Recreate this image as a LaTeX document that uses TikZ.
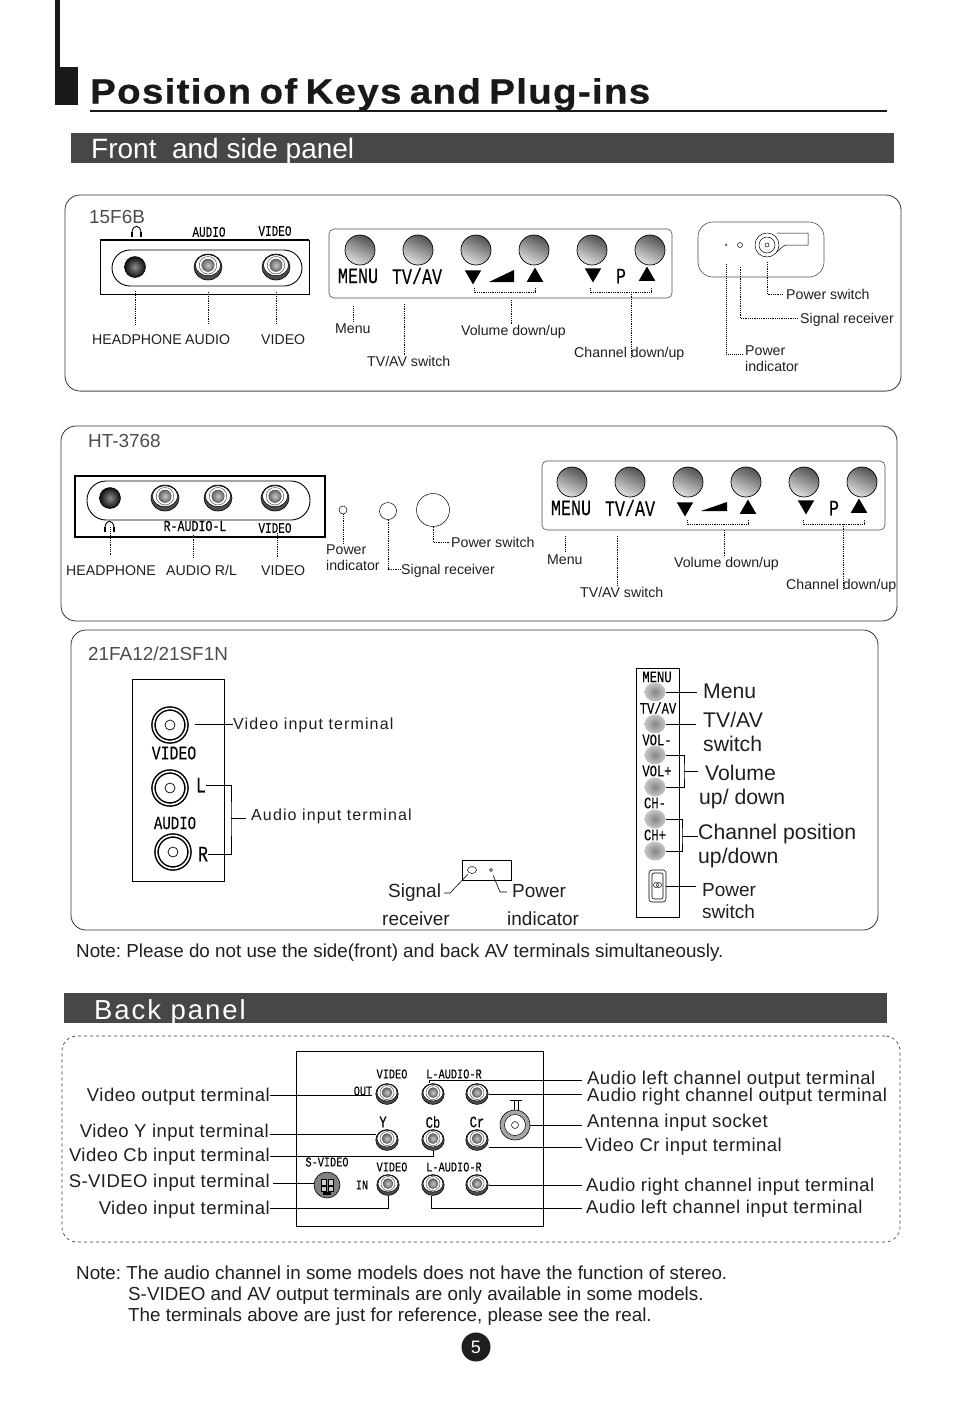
\documentclass[tikz,border=0pt]{standalone}
\usepackage{fontspec}
\usepackage{xcolor}
\usetikzlibrary{positioning,calc,shapes.geometric}
\setmainfont{Liberation Sans}
\newfontfamily\panelfont[FakeStretch=0.76,FakeBold=0.15]{Liberation Mono}
\newfontfamily\spfont[LetterSpace=7]{Liberation Sans}
\newfontfamily\backfont[LetterSpace=2.5]{Liberation Sans}
\newfontfamily\titlefont[LetterSpace=3.7,FakeStretch=1.1,WordSpace=0.7,FakeBold=0.7]{Liberation Sans}
\frenchspacing
\begin{document}
\begin{tikzpicture}[
  x=1pt, y=-1pt,
  panel/.style={draw=black!80, line width=.8pt, rounded corners=15pt},
  bar/.style={fill=black!72, inner sep=0pt},
  bartext/.style={anchor=west, inner sep=0pt, text=white, text height=20pt, text depth=0pt},
  frame/.style={draw=black, line width=.9pt},
  pad/.style={draw=black!70, line width=.6pt, rounded corners=5pt},
  knob/.style={circle, draw=black, line width=.7pt, minimum size=30pt, inner sep=0pt, top color=black!68, bottom color=black!12, shading angle=-25},
  btn/.style={ellipse, minimum width=21pt, minimum height=19pt, inner sep=0pt, inner color=black!48, outer color=black!22},
  rca/.style={ellipse, draw=black, line width=.6pt, fill=black!70, minimum width=28pt*#1, minimum height=26pt*#1, inner sep=0pt,
    path picture={
      \node[ellipse, draw=black, fill=white, line width=.5pt, minimum width=25pt*#1, minimum height=21pt*#1, inner sep=0pt] (rcax) at ([yshift=1.8pt*#1]path picture bounding box.center) {};
      \node[circle, draw=black!80, fill=white, line width=.4pt, minimum size=17.5pt*#1, inner sep=0pt] (rcaz) at (rcax.center) {};
      \node[circle, draw=black!70, line width=.4pt, minimum size=12.5pt*#1, inner sep=0pt, inner color=black!22, outer color=black!60] (rcay) at (rcax.center) {};
    }},
  rca/.default=1,
  hpj/.style={circle, draw=black, line width=.5pt, minimum size=21pt, inner sep=0pt, inner color=black!45, outer color=black!95},
  ringj/.style={circle, draw=black, line width=1.5pt, double=white, double distance=1.6pt, fill=white, minimum size=33pt, inner sep=0pt,
    path picture={\node[circle, draw=black, line width=.7pt, minimum size=10pt, inner sep=0pt] (ringx) at (path picture bounding box.center) {};}},
  hole/.style={circle, draw=black, line width=.5pt, inner sep=0pt},
  tri/.style={regular polygon, regular polygon sides=3, fill=black, inner sep=0pt, minimum size=19pt},
  trd/.style={tri, shape border rotate=180},
  bigp/.style={font=\panelfont\fontsize{22}{22}\selectfont, inner sep=0pt, text=black},
  smallp/.style={font=\panelfont\fontsize{14.5}{15}\selectfont, inner sep=0pt, text=black},
  stripp/.style={font=\panelfont\fontsize{16}{16}\selectfont, inner sep=0pt, text=black},
  backp/.style={font=\panelfont\fontsize{13.5}{14}\selectfont, inner sep=0pt, text=black},
  lab/.style={font=\fontsize{14.15}{16}\selectfont, anchor=west, inner sep=0pt, text=black!88, text height=10pt, text depth=0pt},
  labt/.style={font=\fontsize{14.15}{16}\selectfont, anchor=west, inner sep=0pt, text=black!88, align=left},
  model/.style={font=\fontsize{18.9}{20}\selectfont, anchor=west, inner sep=0pt, text=black!70, text height=13pt, text depth=0pt},
  note/.style={font=\fontsize{18.8}{21}\selectfont, anchor=west, inner sep=0pt, text=black!88, text height=13pt, text depth=0pt},
  big/.style={font=\fontsize{21.2}{24}\selectfont, anchor=west, inner sep=0pt, text=black!88, text height=16pt, text depth=0pt},
  bigt/.style={font=\fontsize{21.2}{24}\selectfont, anchor=west, inner sep=0pt, text=black!88, align=left},
  mid/.style={font=\fontsize{19}{28}\selectfont, anchor=west, inner sep=0pt, text=black!88, text height=14pt, text depth=0pt},
  midt/.style={font=\fontsize{19}{22}\selectfont, anchor=west, inner sep=0pt, text=black!88, align=left},
  sptext/.style={font=\spfont\fontsize{16}{18}\selectfont, anchor=west, inner sep=0pt, text=black!88, text height=11pt, text depth=0pt},
  bk/.style={font=\backfont\fontsize{18.5}{21}\selectfont, inner sep=0pt, text=black!88, text height=13pt, text depth=0pt},
  dotl/.style={densely dotted, line width=.8pt, black},
  lead/.style={line width=.8pt, black}
]
  \useasboundingbox (0,0) rectangle (954,1401);

  % Heading
  \fill[black!90] (55,0) rectangle (60,68);
  \fill[black!90] (55,67) rectangle (78,105);
  \node[font=\titlefont\bfseries\fontsize{35}{38}\selectfont, anchor=west, inner sep=0pt, text=black!90, text height=25pt, text depth=0pt] (title) at (90,91) {Position of Keys and Plug-ins};
  \draw[line width=1.6pt, black!90] (90,111) -- (887,111);
  \node[bar, minimum width=823pt, minimum height=30pt] (barfront) at (482.5,148) {};
  \node[bartext, font=\fontsize{28}{30}\selectfont] (tfront) at (91,148) {Front\ \ and side panel};

  % 15F6B
  \node[panel, minimum width=836pt, minimum height=196pt] (pa) at (483,293) {};
  \draw[line width=1.2pt, black!45] ([xshift=15pt]pa.south west) -- ([xshift=-15pt]pa.south east);
  \node[model] (ma) at (89,217) {15F6B};
  \node[frame, minimum width=209pt, minimum height=54pt] (boxa) at (204.5,267) {};
  \draw[line width=2pt] (boxa.north west) -- (boxa.north east);
  \node[frame, minimum width=190pt, minimum height=36pt, rounded corners=18pt] (pilla) at (207,268) {};
  \node[hpj] (jha) at (135,267) {};
  \node[rca] (jaa) at (208,267) {};
  \node[rca] (jva) at (276,267) {};
  \draw[line width=.9pt] (132,233) .. controls (132,224) and (141,224) .. (141,233);
  \draw[line width=2pt] (132,232) -- (132,237) (141,232) -- (141,237);
  \node[smallp] (ta) at (209,232) {AUDIO};
  \node[smallp] (tb) at (275,231) {VIDEO};
  \node[lab] (lha) at (92,339) {HEADPHONE};
  \node[lab] (laa) at (185,339) {AUDIO};
  \node[lab] (lva) at (261,339) {VIDEO};
  \draw[dotl, shorten <=-3pt, shorten >=9pt] (jha.south |- boxa.south) -- (jha.south |- lha.north);
  \draw[dotl, shorten <=-2pt, shorten >=9pt] (jaa.south |- boxa.south) -- (jaa.south |- laa.north);
  \draw[dotl, shorten <=-2pt, shorten >=9pt] (jva.south |- boxa.south) -- (jva.south |- lva.north);

  \node[pad, minimum width=343pt, minimum height=69pt] (keya) at (500.5,263.5) {};
  \node[knob] (ka1) at (360,250) {};
  \node[knob] (ka2) at (418,250) {};
  \node[knob] (ka3) at (476,250) {};
  \node[knob] (ka4) at (534,250) {};
  \node[knob] (ka5) at (592,250) {};
  \node[knob] (ka6) at (650,250) {};
  \node[bigp] (tmenua) at (358,276) {MENU};
  \node[bigp] (ttva) at (417,276) {TV/AV};
  \node[trd] (vda) at (473,275) {};
  \fill (489,282) -- (514,270) -- (514,282) -- cycle;
  \node[tri] (vua) at (535,277) {};
  \node[trd] (cda) at (593,273) {};
  \node[bigp] (tpa) at (621,276) {P};
  \node[tri] (cua) at (647,276) {};
  \coordinate (va) at (474,288);
  \coordinate (vb) at (535,288);
  \coordinate (vma) at (511,292);
  \coordinate (ca) at (590,288);
  \coordinate (cb) at (651,288);
  \coordinate (cma) at (631,292);
  \coordinate (tva) at (404,298);
  \draw[dotl] (va) -- ++(0,4) -| (vb);
  \draw[dotl] (ca) -- ++(0,4) -| (cb);
  \node[lab] (lmenua) at (335,328) {Menu};
  \node[lab] (ltva) at (367,361) {TV/AV switch};
  \node[lab] (lvola) at (461,330) {Volume down/up};
  \node[lab] (lcha) at (574,352) {Channel down/up};
  \draw[dotl, shorten <=8pt, shorten >=2pt] (lmenua.north |- keya.south) -- (lmenua.north);
  \draw[dotl, shorten <=6pt] (tva) -- (tva |- ltva.north);
  \draw[dotl, shorten <=8pt] (vma) -- (vma |- lvola.north);
  \draw[dotl] (cma) -- (cma |- lcha.south);

  \node[panel, draw=black!70, line width=.6pt, minimum width=126pt, minimum height=55pt] (sidea) at (761,249.5) {};
  \node[circle, fill=black!70, minimum size=2.5pt, inner sep=0pt] (leda) at (726,245) {};
  \node[hole, minimum size=5pt] (recva) at (740,245) {};
  \draw[line width=.5pt] (777,233) -- (808,233) -- (808,245) -- (787,245) .. controls (782,245) and (780,251) .. (773,254);
  \node[hole, fill=white, minimum size=24pt] (swa) at (767,245) {};
  \node[hole, minimum size=16pt] (swb2) at (767,245) {};
  \node[hole, minimum size=4pt] (swc) at (767,245) {};
  \coordinate (cpia) at (743,354);
  \node[lab] (lpsa) at (786,294) {Power switch};
  \node[lab] (lsra) at (800,318) {Signal receiver};
  \node[labt] (lpia) at (745,359) {Power\\indicator};
  \draw[dotl, shorten <=5pt, shorten >=3pt] (swa.south) |- (lpsa.west);
  \draw[dotl, shorten <=19pt, shorten >=3pt] (recva.south) |- (lsra.west);
  \draw[dotl, line width=1pt, shorten <=18pt] (leda.south) |- (cpia);

  % HT-3768
  \node[panel, minimum width=836pt, minimum height=195pt] (pb) at (479,523.5) {};
  \node[model] (mb) at (88,441) {HT-3768};
  \node[frame, line width=1.2pt, minimum width=250pt, minimum height=61pt] (boxb) at (200,506.5) {};
  \node[frame, minimum width=223pt, minimum height=39pt, rounded corners=19pt] (pillb) at (198.5,500.5) {};
  \node[hpj] (jhb) at (110,498) {};
  \node[rca] (jlb) at (165,498) {};
  \node[rca] (jrb) at (218,498) {};
  \node[rca] (jvb) at (275,498) {};
  \draw[line width=.9pt] (105,528) .. controls (105,519) and (114,519) .. (114,528);
  \draw[line width=2pt] (105,527) -- (105,532) (114,527) -- (114,532);
  \node[smallp, font=\panelfont\fontsize{15.3}{16}\selectfont] (tc) at (195,526) {R-AUDIO-L};
  \node[smallp] (td) at (275,528) {VIDEO};
  \node[lab] (lhb) at (66,570) {HEADPHONE};
  \node[lab] (lab) at (166,570) {AUDIO R/L};
  \node[lab] (lvb) at (261,570) {VIDEO};
  \coordinate (cab) at (193,535);
  \coordinate (cvb) at (277,533);
  \draw[dotl, shorten <=-4pt, shorten >=9pt] (jhb.south |- tc.south) -- (jhb.south |- lhb.north);
  \draw[dotl, shorten >=7pt] (cab) -- (cab |- lab.north);
  \draw[dotl, shorten >=7pt] (cvb) -- (cvb |- lvb.north);
  \node[hole, minimum size=8pt] (ledb) at (343,510) {};
  \node[hole, minimum size=17pt] (recvb) at (388,511) {};
  \node[hole, minimum size=33pt] (swib) at (433,510) {};
  \node[labt] (lpib) at (326,558) {Power\\indicator};
  \node[lab] (lsrb) at (401,569) {Signal receiver};
  \node[lab] (lpsb) at (451,542) {Power switch};
  \draw[dotl, shorten >=1pt] (ledb.south) -- (ledb.south |- lpib.north);
  \draw[dotl, shorten >=1pt] (recvb.south) |- (lsrb.west);
  \draw[dotl, shorten >=1pt] (swib.south) |- (lpsb.west);

  \node[pad, minimum width=343pt, minimum height=69pt] (keyb) at (713.5,495.5) {};
  \node[knob] (kb1) at (572,482) {};
  \node[knob] (kb2) at (630,482) {};
  \node[knob] (kb3) at (688,482) {};
  \node[knob] (kb4) at (746,482) {};
  \node[knob] (kb5) at (804,482) {};
  \node[knob] (kb6) at (862,482) {};
  \node[bigp] (tmenub) at (571,508) {MENU};
  \node[bigp] (ttvb) at (630,508) {TV/AV};
  \node[trd] (vdb) at (685,507) {};
  \fill (701,511) -- (727,502) -- (727,511) -- cycle;
  \node[tri] (vub) at (748,509) {};
  \node[trd] (cdb) at (806,505) {};
  \node[bigp] (tpb) at (834,508) {P};
  \node[tri] (cub) at (859,508) {};
  \coordinate (vc) at (687,520);
  \coordinate (vd) at (748,520);
  \coordinate (vmb) at (724,524);
  \coordinate (cc) at (803,520);
  \coordinate (cd) at (864,520);
  \coordinate (cmb) at (843,524);
  \coordinate (tvb) at (617,530);
  \draw[dotl] (vc) -- ++(0,4) -| (vd);
  \draw[dotl] (cc) -- ++(0,4) -| (cd);
  \node[lab] (lmenub) at (547,559) {Menu};
  \node[lab] (ltvb) at (580,592) {TV/AV switch};
  \node[lab] (lvolb) at (674,562) {Volume down/up};
  \node[lab] (lchb) at (786,584) {Channel down/up};
  \draw[dotl, shorten <=6pt, shorten >=3pt] (lmenub.north |- keyb.south) -- (lmenub.north);
  \draw[dotl, shorten <=6pt, shorten >=2pt] (tvb) -- (tvb |- ltvb.north);
  \draw[dotl, shorten <=6pt] (vmb) -- (vmb |- lvolb.north);
  \draw[dotl] (cmb) -- (cmb |- lchb.south);

  % 21FA12/21SF1N
  \node[panel, minimum width=807pt, minimum height=300pt] (pc) at (474.5,780) {};
  \node[model] (mc) at (88,654) {21FA12/21SF1N};
  \node[frame, minimum width=92pt, minimum height=202pt] (boxc) at (178,780) {};
  \node[ringj] (ringa) at (170,725) {};
  \node[ringj] (ringb) at (170,788) {};
  \node[ringj] (ringc) at (173,852) {};
  \node[smallp, font=\panelfont\fontsize{19.5}{20}\selectfont] (te) at (174,753) {VIDEO};
  \node[smallp, font=\panelfont\fontsize{18.5}{19}\selectfont] (tf) at (175,823) {AUDIO};
  \node[smallp, font=\panelfont\fontsize{22}{22}\selectfont] (letl) at (201,785) {L};
  \node[smallp, font=\panelfont\fontsize{22}{22}\selectfont] (letr) at (203,854) {R};
  \node[sptext] (lvic) at (233,724) {Video input terminal};
  \node[sptext] (laic) at (251,815) {Audio input terminal};
  \coordinate (cbr) at (231,818);
  \draw[lead, shorten <=8pt] (lvic.west -| ringa.east) -- (lvic.west);
  \draw[lead] (letl.east) -| (cbr) |- (letr.east);
  \draw[lead, shorten >=5pt] (cbr) -- (cbr -| laic.west);

  \node[frame, line width=.7pt, minimum width=49pt, minimum height=20pt] (boxs) at (486.5,870) {};
  \node[ellipse, draw=black, line width=.5pt, minimum width=9pt, minimum height=7pt, inner sep=0pt] (recvc) at (472,870) {};
  \node[hole, minimum size=3pt] (ledc) at (491,870) {};
  \node[mid] (lsig) at (388,890) {Signal};
  \node[mid] (lrec) at (382,918) {receiver};
  \node[mid] (lpow) at (512,890) {Power};
  \node[mid] (lind) at (507,918) {indicator};
  \coordinate (csa) at (444,893);
  \coordinate (csb) at (450,893);
  \coordinate (cpw) at (500,892);
  \draw[lead, line width=.6pt, shorten >=2pt] (csa) -- (csb) -- (recvc);
  \draw[lead, line width=.6pt, shorten <=4pt, shorten >=5pt] (ledc) -- (cpw) -- (cpw -| lpow.west);

  \node[frame, minimum width=43pt, minimum height=249pt] (strip) at (657.5,792.5) {};
  \node[stripp] (tg) at (657,677) {MENU};
  \node[stripp] (th) at (658,708) {TV/AV};
  \node[stripp] (ti) at (657,740) {VOL-};
  \node[stripp] (tj) at (657,771) {VOL+};
  \node[stripp] (tk) at (655,803) {CH-};
  \node[stripp] (tl) at (655,835) {CH+};
  \node[btn] (btm) at (655,692) {};
  \node[btn] (btt) at (655,724) {};
  \node[btn] (btva) at (655,755) {};
  \node[btn] (btvb) at (655,787) {};
  \node[btn] (btca) at (655,819) {};
  \node[btn] (btcb) at (655,851) {};
  \node[draw=black, line width=.6pt, rounded corners=3pt, minimum width=17pt, minimum height=32pt, inner sep=0pt] (psw) at (657.5,886) {};
  \node[draw=black, line width=.6pt, rounded corners=2pt, minimum width=11pt, minimum height=26pt, inner sep=0pt] (pswi) at (657.5,886) {};
  \node[hole, minimum size=5pt] (pswa) at (656,885) {};
  \node[hole, minimum size=5pt] (pswb) at (659,885) {};
  \node[big] (lmenuc) at (703,690) {Menu};
  \node[bigt] (ltvc) at (703,732) {TV/AV\\switch};
  \node[big] (lvolc) at (705,772) {Volume};
  \node[big] (lupc) at (699,796) {up/ down};
  \node[bigt] (lchc) at (698,846) {Channel position\\up/down};
  \node[midt] (lpsc) at (702,901) {Power\\switch};
  \coordinate (ctv) at (696,724);
  \coordinate (cvo) at (684,771);
  \coordinate (ccp) at (682,836);
  \coordinate (cps) at (696,886);
  \draw[lead, shorten >=6pt] (btm.east) -- (btm.east -| lmenuc.west);
  \draw[lead] (btt.east) -- (ctv);
  \draw[lead] (btva.east) -| (cvo) |- (btvb.east);
  \draw[lead, shorten >=7pt] (cvo) -- (cvo -| lvolc.west);
  \draw[lead] (btca.east) -| (ccp) |- (btcb.east);
  \draw[lead] (ccp) -- (ccp -| lchc.west);
  \draw[lead] (psw.east) -- (cps);

  \node[note] (noteav) at (76,951) {Note: Please do not use the side(front) and back AV terminals simultaneously.};

  % Back panel
  \node[bar, minimum width=823pt, minimum height=30pt] (barback) at (475.5,1008) {};
  \node[bartext, font=\spfont\fontsize{27.5}{30}\selectfont] (tback) at (94,1009) {Back panel};
  \node[panel, dashed, line width=.6pt, minimum width=838pt, minimum height=206pt] (pd) at (481,1139) {};
  \node[frame, minimum width=247pt, minimum height=175pt] (boxd) at (419.5,1138.5) {};
  \draw[line width=1.8pt] (boxd.south west) -- (boxd.south east);
  \node[rca=.8] (jvo) at (387,1094) {};
  \node[rca=.8] (jal) at (433,1094) {};
  \node[rca=.8] (jar) at (477,1094) {};
  \node[rca=.8] (jy) at (387,1140) {};
  \node[rca=.8] (jcb) at (433,1140) {};
  \node[rca=.8] (jcr) at (477,1140) {};
  \node[rca=.8] (jvin) at (388,1185) {};
  \node[rca=.8] (jlin) at (433,1185) {};
  \node[rca=.8] (jrin) at (477,1185) {};
  \node[circle, draw=black, line width=.6pt, fill=black!35, minimum size=30pt, inner sep=0pt] (jant) at (515,1125) {};
  \node[hole, fill=white, minimum size=21pt] (janta) at (515,1125) {};
  \node[hole, minimum size=7pt] (jantb) at (515,1125) {};
  \draw[line width=.7pt] (510,1100) -- (522,1100) (514,1100) -- (514,1110) (518,1100) -- (518,1110);
  \node[circle, draw=black, line width=.6pt, fill=black!50, minimum size=26pt, inner sep=0pt] (jsv) at (327,1185) {};
  \draw[black, line width=.6pt, fill=black!20] (321,1179) rectangle (326,1185) (328,1179) rectangle (333,1185) (321,1186) rectangle (326,1191) (328,1186) rectangle (333,1191);
  \fill[black] (323,1192) rectangle (331,1195);
  \node[backp] (tm) at (392,1074) {VIDEO};
  \node[backp] (tn) at (454,1074) {L-AUDIO-R};
  \node[backp] (to) at (363,1091) {OUT};
  \node[smallp, font=\panelfont\fontsize{16}{16}\selectfont] (tp) at (383,1122) {Y};
  \node[smallp, font=\panelfont\fontsize{16}{16}\selectfont] (tq) at (433,1122) {Cb};
  \node[smallp, font=\panelfont\fontsize{16}{16}\selectfont] (tr) at (477,1122) {Cr};
  \node[backp] (ts) at (327,1162) {S-VIDEO};
  \node[backp] (tt) at (392,1167) {VIDEO};
  \node[backp] (tu) at (454,1167) {L-AUDIO-R};
  \node[backp] (tv) at (362,1185) {IN};

  \node[bk, anchor=east] (lvo) at (270,1095) {Video output terminal};
  \node[bk, anchor=east] (lvy) at (269,1131) {Video Y input terminal};
  \node[bk, anchor=east] (lcb) at (270,1155) {Video Cb input terminal};
  \node[bk, anchor=east] (lsv) at (270,1181) {S-VIDEO input terminal};
  \node[bk, anchor=east] (lvin) at (270,1208) {Video input terminal};
  \node[bk, anchor=west] (lalo) at (587,1078) {Audio left channel output terminal};
  \node[bk, anchor=west] (laro) at (587,1095) {Audio right channel output terminal};
  \node[bk, anchor=west] (lant) at (587,1121) {Antenna input socket};
  \node[bk, anchor=west] (lcr) at (585,1145) {Video Cr input terminal};
  \node[bk, anchor=west] (lari) at (586,1185) {Audio right channel input terminal};
  \node[bk, anchor=west] (lali) at (586,1207) {Audio left channel input terminal};
  \coordinate (cyl) at (270,1134);
  \coordinate (cbl) at (270,1156);
  \coordinate (csv) at (273,1183);
  \coordinate (calo) at (582,1080);
  \coordinate (ccr) at (582,1147);
  \coordinate (cali) at (582,1208);
  \draw[lead, shorten >=4pt] (lvo.east) -- (lvo.east -| jvo.west);
  \draw[lead] (cyl) -- (cyl -| jy.west);
  \draw[lead] (cbl) -| (jcb.south);
  \draw[lead] (csv) -- (csv -| jsv.west);
  \draw[lead] (lvin.east) -| (jvin.south);
  \draw[lead] (calo) -| ([xshift=-4pt]jal.north);
  \draw[lead, shorten >=5pt] (jar.east) -- (jar.east -| laro.west);
  \draw[lead, shorten >=5pt] (jant.east) -- (jant.east -| lant.west);
  \draw[lead] (ccr) -- (ccr -| jcr.east);
  \draw[lead, shorten >=4pt] (jrin.east) -- (jrin.east -| lari.west);
  \draw[lead] (cali) -| ([xshift=-2pt]jlin.south);

  \node[note] (notea) at (76,1273) {Note: The audio channel in some models does not have the function of stereo.};
  \node[note] (noteb) at (128,1294) {S-VIDEO and AV output terminals are only available in some models.};
  \node[note] (notec) at (128,1315) {The terminals above are just for reference, please see the real.};
  \node[circle, fill=black!88, text=white, minimum size=29pt, inner sep=0pt, font=\fontsize{18}{20}\selectfont] (pgn) at (476,1347) {5};
\end{tikzpicture}
\end{document}
